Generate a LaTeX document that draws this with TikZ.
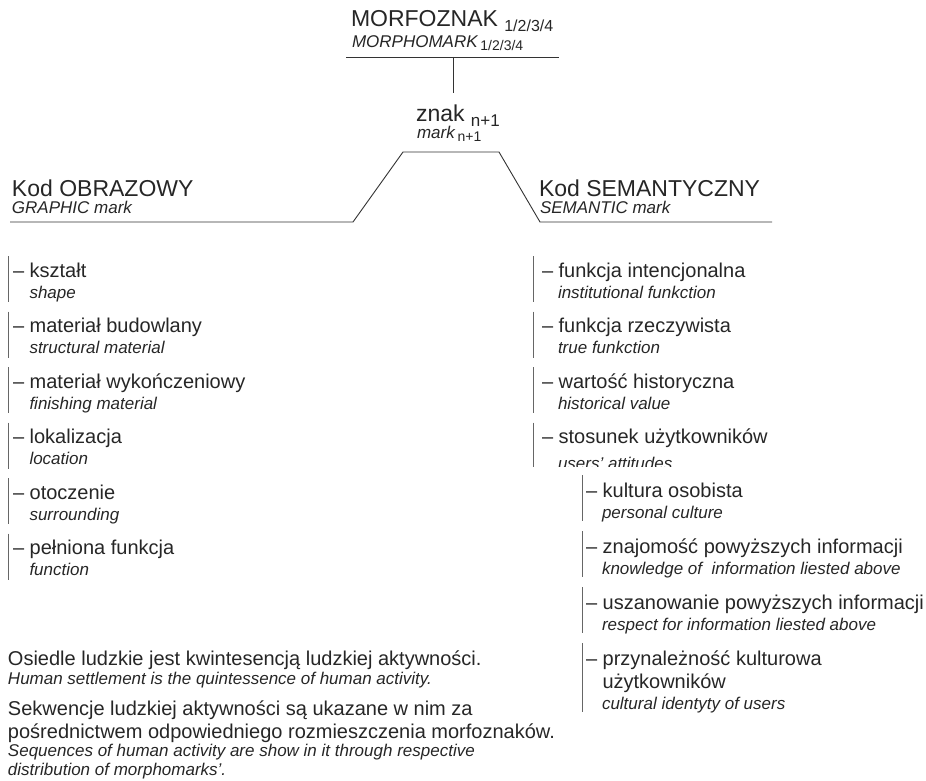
\documentclass[tikz,border=0pt]{standalone}
\usepackage{fontspec}
\setmainfont{Liberation Sans}
\begin{document}
\begin{tikzpicture}[x=1pt, y=-1pt]
\tikzset{ inner sep=0pt, outer sep=0pt,
  txt/.style={anchor=base west, text=black!85},
  tit/.style={txt, font=\fontsize{23}{27}\selectfont},
  sub/.style={txt, font=\fontsize{17}{20}\selectfont\itshape},
  pl/.style={txt, font=\fontsize{20}{23}\selectfont},
  en/.style={txt, font=\fontsize{17}{20}\selectfont\itshape},
  linha/.style={black!80, line width=0.9pt},
  barra/.style={black!60, line width=1pt},
}
\useasboundingbox (0,0) rectangle (926,781);

%%% Topo

% morfoznak
\node [tit] (morf) at (351,27) {MORFOZNAK \raisebox{-5pt}{\fontsize{16}{18}\selectfont 1/2/3/4}};
\node [sub] (morph) at (352,48) {MORPHOMARK\,\raisebox{-3pt}{\fontsize{14}{16}\selectfont\upshape 1/2/3/4}};
\draw [linha] (346,57) -- (559,57);
\coordinate (mtop) at (453,57);

% znak n+1
\node [tit] (znak) at (416,122) {znak \raisebox{-5pt}{\fontsize{17}{20}\selectfont n+1}};
\node [sub] (mark) at (417,139) {mark\,\raisebox{-3pt}{\fontsize{14}{16}\selectfont\upshape n+1}};
\draw [linha] (mtop) -- (mtop |- 0,93);

% kody
\draw [linha] (10,222) -- (353,222) -- (403,152) -- (499,152) -- (540,222) -- (772,222);
\node [tit] (obraz) at (12,196) {Kod OBRAZOWY};
\node [sub] (graph) at (12,213) {GRAPHIC mark};
\node [tit] (seman) at (539,196) {Kod SEMANTYCZNY};
\node [sub] (sema) at (540,213) {SEMANTIC mark};

%%% Kod obrazowy

% ksztalt
\draw [barra] (8,256) -- (8,302);
\node [pl] (ksz) at (13,277) {– kształt};
\node [en] (ksze) at (29.5,298) {shape};

% material budowlany
\draw [barra] (8,311.5) -- (8,357.5);
\node [pl] (bud) at (13,332.5) {– materiał budowlany};
\node [en] (bude) at (29.5,353.5) {structural material};

% material wykonczeniowy
\draw [barra] (8,367) -- (8,413);
\node [pl] (wyk) at (13,388) {– materiał wykończeniowy};
\node [en] (wyke) at (29.5,409) {finishing material};

% lokalizacja
\draw [barra] (8,422.5) -- (8,468.5);
\node [pl] (lok) at (13,443.5) {– lokalizacja};
\node [en] (loke) at (29.5,464.5) {location};

% otoczenie
\draw [barra] (8,478) -- (8,524);
\node [pl] (oto) at (13,499) {– otoczenie};
\node [en] (otoe) at (29.5,520) {surrounding};

% pelniona funkcja
\draw [barra] (8,533.5) -- (8,579.5);
\node [pl] (pel) at (13,554.5) {– pełniona funkcja};
\node [en] (pele) at (29.5,575.5) {function};

%%% Kod semantyczny

% funkcja intencjonalna
\draw [barra] (533,256) -- (533,302);
\node [pl] (fint) at (542,277) {– funkcja intencjonalna};
\node [en] (finte) at (558,298) {institutional funkction};

% funkcja rzeczywista
\draw [barra] (533,311.5) -- (533,357.5);
\node [pl] (frz) at (542,332.5) {– funkcja rzeczywista};
\node [en] (frze) at (558,353.5) {true funkction};

% wartosc historyczna
\draw [barra] (533,367) -- (533,413);
\node [pl] (war) at (542,388) {– wartość historyczna};
\node [en] (ware) at (558,409) {historical value};

% stosunek uzytkownikow (obciete)
\begin{scope}
\clip (500,400) rectangle (926,466);
\draw [barra] (533,422.5) -- (533,470);
\node [pl] (sto) at (542,443.5) {– stosunek użytkowników};
\node [en] (stoe) at (558,469) {users' attitudes};
\end{scope}

% kultura osobista
\draw [barra] (582,475) -- (582,521);
\node [pl] (kul) at (586,497) {– kultura osobista};
\node [en] (kule) at (602,518) {personal culture};

% znajomosc
\draw [barra] (582,531) -- (582,577);
\node [pl] (zna) at (586,553) {– znajomość powyższych informacji};
\node [en] (znae) at (602,574) {knowledge of \ information liested above};

% uszanowanie
\draw [barra] (582,587) -- (582,633);
\node [pl] (usz) at (586,609) {– uszanowanie powyższych informacji};
\node [en] (usze) at (602,630) {respect for information liested above};

% przynaleznosc
\draw [barra] (582,643) -- (582,712);
\node [pl] (prz) at (586,665) {– przynależność kulturowa};
\node [pl] (prz2) at (602.5,688) {użytkowników};
\node [en] (prze) at (602,709) {cultural identyty of users};

%%% Opis

\node [pl] (osi) at (8,665) {Osiedle ludzkie jest kwintesencją ludzkiej aktywności.};
\node [en] (osie) at (8,684) {Human settlement is the quintessence of human activity.};
\node [pl] (sek) at (8,715) {Sekwencje ludzkiej aktywności są ukazane w nim za};
\node [pl] (sek2) at (8,738) {pośrednictwem odpowiedniego rozmieszczenia morfoznaków.};
\node [en] (seke) at (8,756) {Sequences of human activity are show in it through respective};
\node [en] (seke2) at (8,775) {distribution of morphomarks'.};

\end{tikzpicture}
\end{document}
